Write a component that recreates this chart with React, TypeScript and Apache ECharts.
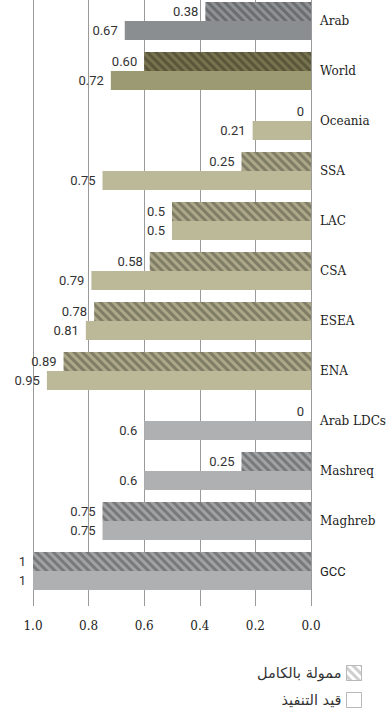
import React, { useEffect, useRef } from "react";
import * as echarts from "echarts";

const categories = [
  "Arab", "World", "Oceania", "SSA", "LAC", "CSA", "ESEA", "ENA",
  "Arab LDCs", "Mashreq", "Maghreb", "GCC",
];
const fullyFunded = [0.38, 0.6, 0, 0.25, 0.5, 0.58, 0.78, 0.89, 0, 0.25, 0.75, 1];
const fullyFundedLabels = ["0.38", "0.60", "0", "0.25", "0.5", "0.58", "0.78", "0.89", "0", "0.25", "0.75", "1"];
const underImpl = [0.67, 0.72, 0.21, 0.75, 0.5, 0.79, 0.81, 0.95, 0.6, 0.6, 0.75, 1];
const underImplLabels = ["0.67", "0.72", "0.21", "0.75", "0.5", "0.79", "0.81", "0.95", "0.6", "0.6", "0.75", "1"];
const xTicks = [0, 0.2, 0.4, 0.6, 0.8, 1.0];
const seriesNames = ["ممولة بالكامل", "قيد التنفيذ"];

// colour group per category
const groups = ["arab", "world", "khaki", "khaki", "khaki", "khaki", "khaki", "khaki", "gray", "gray", "gray", "gray"];
const solidColor: Record<string, string> = {
  arab: "#8b8e91",
  world: "#9c9a72",
  khaki: "#bcb999",
  gray: "#aeb0b2",
};
const hatchColor: Record<string, string> = {
  arab: "#8f9295",
  world: "#77734e",
  khaki: "#aba788",
  gray: "#a0a2a4",
};

const decal = {
  symbol: "rect",
  dashArrayX: [1, 0],
  dashArrayY: [3, 3],
  rotation: Math.PI / 4,
  color: "rgba(0,0,0,0.25)",
};

export default function App() {
  const ref = useRef<HTMLDivElement>(null);
  useEffect(() => {
    if (!ref.current) return;
    const chart = echarts.init(ref.current, null, { renderer: "svg" });
    const labelStyle = {
      show: true,
      position: "left" as const,
      distance: 7,
      fontFamily: "Roboto",
      fontSize: 13,
      color: "#333",
    };
    chart.setOption({
      animation: false,
      grid: { left: 33, right: 75, top: 0, height: 600 },
      legend: {
        orient: "vertical",
        right: 27,
        top: 669,
        padding: 0,
        align: "right",
        itemWidth: 15,
        itemHeight: 15,
        itemGap: 11,
        textStyle: { fontFamily: "DejaVu Sans", fontSize: 14.5, color: "#333" },
        data: [
          {
            name: seriesNames[0],
            icon: "rect",
            itemStyle: {
              color: "#ffffff",
              borderColor: "#b8b8b8",
              borderWidth: 1,
              decal: { ...decal, dashArrayY: [2.5, 2.5], color: "#cfcfcf" },
            },
          },
          {
            name: seriesNames[1],
            icon: "rect",
            itemStyle: { color: "#ffffff", borderColor: "#b8b8b8", borderWidth: 1, decal: "none" },
          },
        ],
      },
      xAxis: {
        type: "value",
        inverse: true,
        min: 0,
        max: 1,
        interval: 0.2,
        axisLine: { show: false },
        axisTick: { show: true, length: 10, lineStyle: { color: "#9a9a9a" } },
        splitLine: { show: true, lineStyle: { color: "#9a9a9a", width: 1 } },
        axisLabel: {
          margin: 24,
          fontFamily: "DejaVu Serif",
          fontSize: 12,
          color: "#222",
          formatter: (v: number) => (xTicks.includes(v) ? v.toFixed(1) : ""),
        },
      },
      yAxis: {
        type: "category",
        inverse: true,
        position: "right",
        data: categories,
        axisLine: { show: false },
        axisTick: { show: false },
        axisLabel: {
          margin: 9,
          fontFamily: "DejaVu Serif",
          fontSize: 12,
          color: "#222",
          formatter: (v: string) => (v === "GCC" ? "{s|" + v + "}" : v),
          rich: { s: { fontFamily: "Roboto", fontSize: 13, color: "#222" } },
        },
      },
      series: [
        {
          name: seriesNames[0],
          type: "bar",
          barWidth: 19,
          barGap: "0%",
          itemStyle: { color: "#aba788", decal },
          label: { ...labelStyle, formatter: (p: any) => fullyFundedLabels[p.dataIndex] },
          data: fullyFunded.map((v, i) => ({
            value: v,
            itemStyle: { color: hatchColor[groups[i]], decal },
          })),
        },
        {
          name: seriesNames[1],
          type: "bar",
          barWidth: 19,
          barGap: "0%",
          itemStyle: { color: "#bcb999" },
          label: { ...labelStyle, formatter: (p: any) => underImplLabels[p.dataIndex] },
          data: underImpl.map((v, i) => ({
            value: v,
            itemStyle: { color: solidColor[groups[i]] },
          })),
        },
      ],
    });
    return () => chart.dispose();
  }, []);
  return (
    <div
      ref={ref}
      style={{ position: "fixed", left: 0, top: -4, width: 389, height: 717, background: "#fff" }}
    />
  );
}
